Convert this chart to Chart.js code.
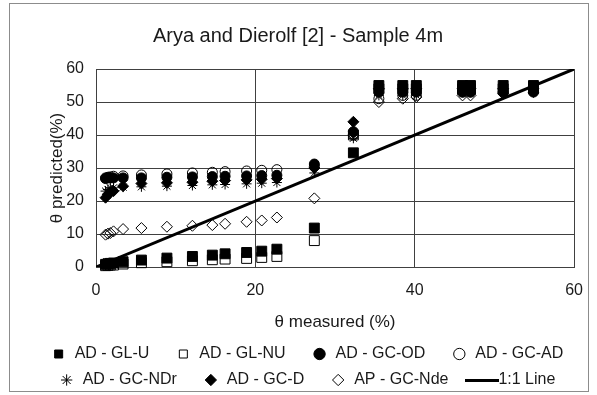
<!DOCTYPE html>
<html>
<head>
<meta charset="utf-8">
<title>Arya and Dierolf - Sample 4m</title>
<script src="https://cdn.jsdelivr.net/npm/chart.js@4/dist/chart.umd.min.js"></script>
<style>
  html, body { margin: 0; padding: 0; background: #fff; }
</style>
</head>
<body>
<canvas id="sampleChart" width="597" height="395"></canvas>
<script>
"use strict";

// measured moisture content (x) shared by all the model series
const measured = [1.2, 1.5, 1.8, 2.2, 3.4, 5.7, 8.9, 12.1, 14.6, 16.2, 18.9, 20.8, 22.7, 27.4, 32.3, 35.5, 38.5, 40.2, 46.0, 47.0, 51.1, 54.9];

// predicted values
const adGlU   = [0.8, 1.0, 1.1, 1.2, 1.6, 2.1, 2.7, 3.2, 3.6, 4.0, 4.4, 4.8, 5.4, 11.8, 34.6, 55.0, 55.0, 55.0, 55.0, 55.0, 55.0, 55.0];
const adGlNu  = [0.4, 0.5, 0.6, 0.6, 0.9, 1.3, 1.6, 1.9, 2.2, 2.4, 2.6, 2.9, 3.2, 8.0, 40.0, 54.0, 54.0, 54.0, 54.0, 54.0, 54.0, 54.0];
const adGcOd  = [26.8, 27.0, 27.0, 27.0, 27.0, 27.0, 27.2, 27.3, 27.4, 27.5, 27.6, 27.7, 27.8, 31.2, 41.0, 53.0, 53.0, 53.0, 53.0, 53.0, 53.0, 53.0];
const adGcAd  = [27.0, 27.2, 27.3, 27.5, 27.6, 27.9, 28.2, 28.5, 28.7, 28.9, 29.1, 29.3, 29.5, 30.5, 40.0, 51.0, 52.0, 52.0, 53.0, 53.0, 53.0, 53.5];
const adGcNdr = [23.0, 23.5, 24.0, 24.0, 24.2, 24.3, 24.5, 24.7, 24.9, 25.0, 25.2, 25.4, 25.6, 28.5, 39.0, 52.0, 52.0, 52.0, 53.0, 53.0, 53.0, 53.0];
const adGcD   = [21.0, 22.0, 22.5, 23.0, 24.5, 25.3, 25.5, 25.7, 26.0, 26.2, 26.4, 26.6, 26.8, 30.0, 44.0, 54.0, 54.0, 54.0, 54.0, 54.0, 54.0, 54.0];
const apGcNde = [9.8, 10.1, 10.3, 10.8, 11.5, 11.8, 12.2, 12.5, 12.7, 13.1, 13.7, 14.1, 15.0, 20.8, 40.0, 50.0, 51.0, 51.5, 52.0, 52.0, 52.5, 53.0];

// 1:1 reference line
const lineX = [0, 60];
const lineY = [0, 60];

const FONT = "'Liberation Sans', Arial, sans-serif";
const TEXT_COLOR = "#1a1a1a";
const GRID_COLOR = "#404040";
const LEGEND_GAP = "\u2002\u2002";

const toPoints = (xs, ys) => xs.map((x, i) => ({ x: x, y: ys[i] }));

const markerSeries = (label, ys, style, filled, radius) => ({
  label: label,
  data: toPoints(measured, ys),
  pointStyle: style,
  pointRadius: radius,
  pointHoverRadius: radius,
  backgroundColor: filled ? "#000" : "rgba(0,0,0,0)",
  borderColor: "#000",
  borderWidth: 1,
  showLine: false,
  clip: false,
});

// long thick dash used as the legend glyph of the 1:1 line
const lineGlyph = document.createElement("canvas");
lineGlyph.width = 34;
lineGlyph.height = 3;
const glyphCtx = lineGlyph.getContext("2d");
glyphCtx.fillStyle = "#000";
glyphCtx.fillRect(0, 0, 34, 3);

// white background + thin outer frame like the original figure,
// legend nudged right (the original legend is not centred on the canvas)
const chartFrame = {
  id: "chartFrame",
  afterLayout(chart) {
    chart.legend.left += 17;
    chart.legend.right += 17;
  },
  beforeDraw(chart) {
    const ctx = chart.ctx;
    ctx.save();
    ctx.fillStyle = "#fff";
    ctx.fillRect(0, 0, chart.width, chart.height);
    ctx.strokeStyle = "#8c8c8c";
    ctx.lineWidth = 1;
    ctx.strokeRect(9.5, 3.5, 579, 388);
    ctx.restore();
  },
};

const chart = new Chart(document.getElementById("sampleChart"), {
  type: "scatter",
  data: {
    datasets: [
      markerSeries("AD - GL-U", adGlU, "rect", true, 7),
      markerSeries("AD - GL-NU", adGlNu, "rect", false, 7),
      markerSeries("AD - GC-OD", adGcOd, "circle", true, 5),
      markerSeries("AD - GC-AD", adGcAd, "circle", false, 5),
      markerSeries("AD - GC-NDr", adGcNdr, "star", false, 5),
      markerSeries("AD - GC-D", adGcD, "rectRot", true, 5.5),
      markerSeries("AP - GC-Nde", apGcNde, "rectRot", false, 5.5),
      {
        label: "1:1 Line",
        data: toPoints(lineX, lineY),
        showLine: true,
        borderColor: "#000",
        backgroundColor: "#000",
        borderWidth: 3,
        pointRadius: 0,
        pointHoverRadius: 0,
        pointStyle: lineGlyph,
      },
    ],
  },
  options: {
    responsive: false,
    animation: false,
    events: [],
    layout: { padding: { left: 20, right: 21, top: 0, bottom: -3 } },
    plugins: {
      title: {
        display: true,
        text: "Arya and Dierolf [2] - Sample 4m",
        color: TEXT_COLOR,
        font: { family: FONT, size: 20, weight: "normal" },
        padding: { top: 24, bottom: 21 },
      },
      legend: {
        position: "bottom",
        labels: {
          usePointStyle: true,
          pointStyleWidth: null,
          boxWidth: 16,
          boxHeight: 8,
          padding: 10,
          color: TEXT_COLOR,
          font: { family: FONT, size: 16 },
          generateLabels: (c) =>
            Chart.defaults.plugins.legend.labels.generateLabels(c).map((item) => {
              item.text = item.text + LEGEND_GAP;
              return item;
            }),
        },
      },
      tooltip: { enabled: false },
    },
    scales: {
      x: {
        type: "linear",
        min: 0,
        max: 60,
        ticks: { stepSize: 20, padding: 14, color: TEXT_COLOR, font: { family: FONT, size: 16 } },
        grid: { color: GRID_COLOR, drawTicks: false },
        border: { color: GRID_COLOR },
        title: {
          display: true,
          text: "θ measured (%)",
          color: TEXT_COLOR,
          font: { family: FONT, size: 17 },
          padding: { top: 0, bottom: 3 },
        },
        afterFit: (scale) => { scale.height = 69; },
      },
      y: {
        type: "linear",
        min: 0,
        max: 60,
        ticks: { stepSize: 10, padding: 12, color: TEXT_COLOR, font: { family: FONT, size: 16 } },
        grid: { color: GRID_COLOR, drawTicks: false },
        border: { color: GRID_COLOR },
        title: {
          display: true,
          text: "θ predicted(%)",
          color: TEXT_COLOR,
          font: { family: FONT, size: 17 },
          padding: { top: 27, bottom: 0 },
        },
        afterFit: (scale) => { scale.width = 76; },
      },
    },
  },
  plugins: [chartFrame],
});
</script>
</body>
</html>
